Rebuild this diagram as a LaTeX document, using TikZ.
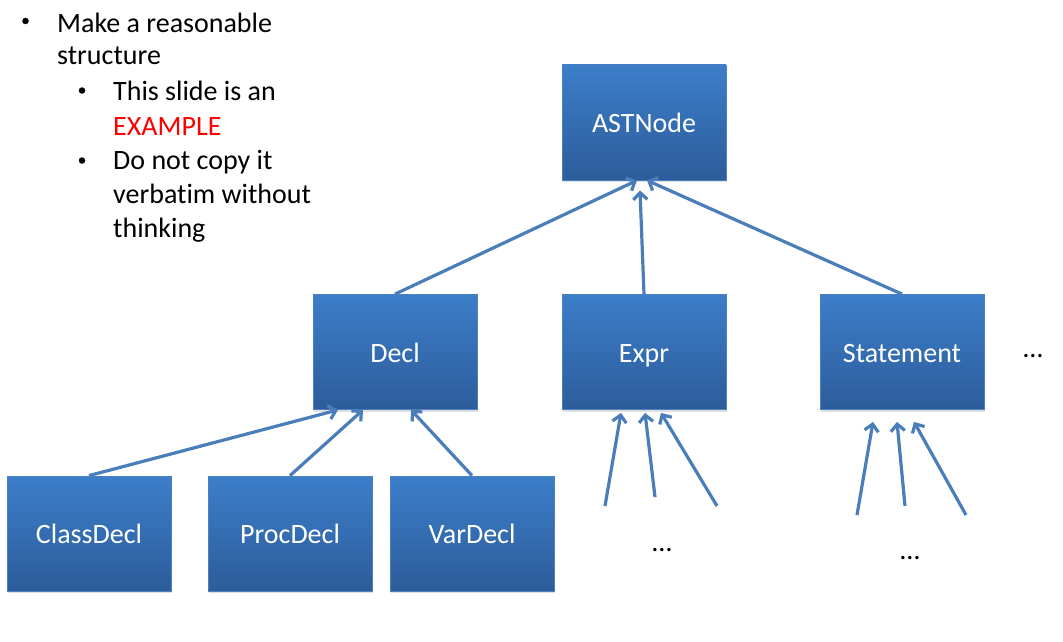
\documentclass[tikz,border=0pt]{standalone}
\usepackage{fontspec}
\setmainfont{Carlito}[Ligatures=NoCommon]
\usetikzlibrary{arrows.meta,
                positioning,
                shadows}

\definecolor{boxtop}{RGB}{60,126,201}
\definecolor{boxbot}{RGB}{45,92,155}
\definecolor{boxline}{RGB}{76,128,192}
\definecolor{arrowblue}{RGB}{74,126,187}

\begin{document}
\begin{tikzpicture}[x=1pt, y=-1pt,
node distance = 229.5pt and 249pt, on grid,
font = \fontsize{28pt}{31pt}\selectfont,
classbox/.style = {rectangle, draw=boxline, line width=0.8pt,
                   top color=boxtop, bottom color=boxbot, text=white,
                   minimum width=164pt, minimum height=115pt, inner sep=0pt,
                   text height=20pt, text depth=0pt,
                   drop shadow={shadow xshift=0.5pt, shadow yshift=-2pt, opacity=0.25}},
inherits/.style = {draw=arrowblue, line width=3.2pt,
                   -{Straight Barb[length=7pt,width=14pt]}},
bullettext/.style = {anchor=base west, inner sep=0pt},
bulletmark/.style = {circle, fill=black, minimum size=6.5pt, inner sep=0pt},
dots/.style = {anchor=base, inner sep=0pt}
                        ]
            \useasboundingbox (0,0) rectangle (1063,642);
            \fill[white] (0,0) rectangle (1063,642);

            % bullet list
            \node[bulletmark] (d1) at (25.5,21) {};
            \node[bullettext] (l1) at (57,33) {Make a reasonable};
            \node[bullettext] (l2) at (57,64) {structure};
            \node[bulletmark] (d2) at (82,90.5) {};
            \node[bullettext] (l3) at (113,100) {This slide is an};
            \node[bullettext, text=red] (l4) at (113,135) {EXAMPLE};
            \node[bulletmark] (d3) at (82,160.5) {};
            \node[bullettext] (l5) at (113,169) {Do not copy it};
            \node[bullettext] (l6) at (113,203) {verbatim without};
            \node[bullettext] (l7) at (113,237) {thinking};

            % class boxes
            \node[classbox] (ast) at (644,122.5) {ASTNode};
            \node[classbox, below=of ast] (expr) {Expr};
            \node[classbox, left=of expr] (decl) {Decl};
            \node[classbox, right=258pt of expr] (stmt) {Statement};
            \node[classbox, below left=181.5pt and 306pt of decl] (classdecl) {ClassDecl};
            \node[classbox, below left=181.5pt and 105pt of decl] (procdecl) {ProcDecl};
            \node[classbox, below right=181.5pt and 77pt of decl] (vardecl) {VarDecl};

            \node[dots] (edots) at (662,551) {…};
            \node[dots] (sdots) at (910,559) {…};
            \node[dots] (rdots) at (1033,357) {…};

            % loose ends
            \coordinate (e1) at (605,506);
            \coordinate (e2) at (655,497);
            \coordinate (e3) at (717,506);
            \coordinate (s1) at (857,515);
            \coordinate (s2) at (905,506);
            \coordinate (s3) at (966,515);

            \draw[inherits] (decl.north) -- ([xshift=-7pt]ast.south);
            \draw[inherits] (expr.north) -- ([xshift=-4pt, yshift=-10pt]ast.south);
            \draw[inherits] (stmt.north) -- ([xshift=3pt]ast.south);

            \draw[inherits] (classdecl.north) -- ([xshift=-57pt]decl.south);
            \draw[inherits] (procdecl.north) -- ([xshift=-32pt]decl.south);
            \draw[inherits] (vardecl.north) -- ([xshift=16pt]decl.south);

            \foreach \n/\dx in {e1/-23, e2/1, e3/17}
                \draw[inherits] (\n) -- ([xshift=\dx pt, yshift=-3pt]expr.south);
            \foreach \n/\dx in {s1/-29, s2/-5, s3/12}
                \draw[inherits] (\n) -- ([xshift=\dx pt, yshift=-12pt]stmt.south);
\end{tikzpicture}
\end{document}
